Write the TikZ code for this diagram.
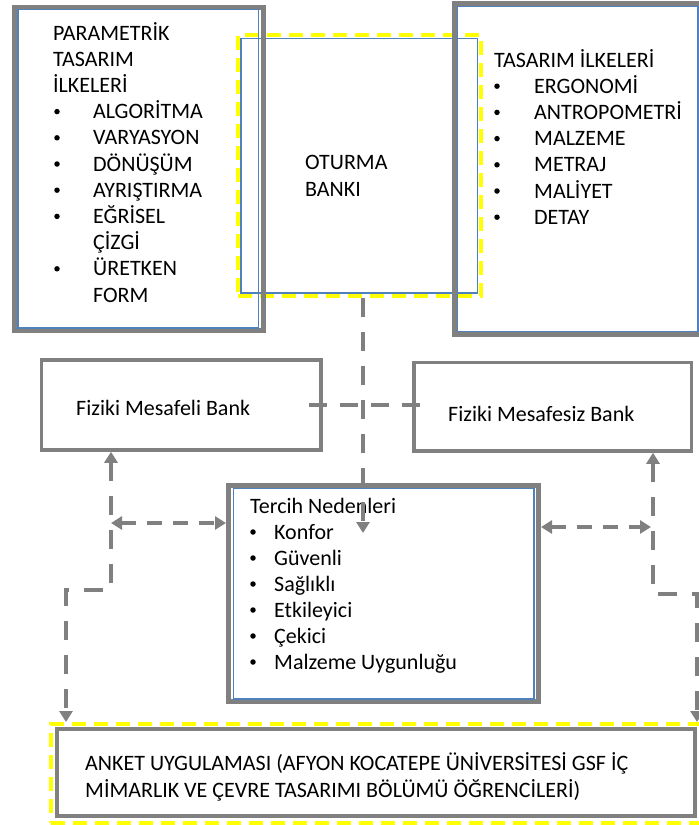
\documentclass[tikz,border=0pt]{standalone}
\usepackage{fontspec}
\setmainfont{Carlito}
\usetikzlibrary{arrows.meta}
\definecolor{framegray}{RGB}{128,128,128}
\definecolor{frameblue}{RGB}{79,129,189}
\definecolor{markyellow}{RGB}{255,255,0}

\begin{document}
\begin{tikzpicture}[x=1pt, y=-1pt,
    >={Triangle[length=11pt,width=13pt]},
    panel/.style={draw=framegray, line width=5pt, inner sep=0pt},
    liner/.style={draw=frameblue, line width=1.2pt, inner sep=0pt},
    optbox/.style={draw=framegray, line width=3.5pt, inner sep=0pt},
    hilite/.style={draw=markyellow, line width=4pt, dash pattern=on 14pt off 8pt, inner sep=0pt},
    txt/.style={anchor=base west, inner sep=0pt, font=\fontsize{22}{26}\selectfont},
    dot/.style={circle, fill=black, inner sep=0pt, minimum size=5.5pt},
    link/.style={draw=framegray, line width=4pt, dash pattern=on 19pt off 15pt},
    shortlink/.style={draw=framegray, line width=4pt, dash pattern=on 15pt off 11pt}]
  \useasboundingbox (0,0) rectangle (699,825);

  % oturma banki in the middle
  \node[liner, minimum width=236.7pt, minimum height=254.7pt] (benchin) at (359.3,165.6) {};
  \node[hilite, minimum width=243pt, minimum height=261pt] (bench) at (359,165.5) {};
  \node[txt] (bench1) at (305,169) {OTURMA};
  \node[txt] (bench2) at (305,196) {BANKI};

  % parametrik tasarim ilkeleri
  \node[panel, minimum width=248.5pt, minimum height=323.5pt] (param) at (138.75,168.75) {};
  \node[liner, minimum width=240.5pt, minimum height=318.5pt] (paramin) at (138.25,168.75) {};
  \foreach \t [count=\i] in {PARAMETRİK,TASARIM,İLKELERİ}
    \node[txt] (ptitle\i) at (53,13.8+26.2*\i) {\t};
  \foreach \t/\k in {ALGORİTMA/4,VARYASYON/5,DÖNÜŞÜM/6,AYRIŞTIRMA/7,EĞRİSEL/8,ÜRETKEN/10} {
    \node[dot] (pbul\k) at (57,6.8+26.2*\k) {};
    \node[txt] (pitem\k) at (93,13.8+26.2*\k) {\t};
  }
  \foreach \t/\k in {ÇİZGİ/9,FORM/11}
    \node[txt] (pitem\k) at (93,13.8+26.2*\k) {\t};

  % tasarim ilkeleri
  \node[panel, minimum width=249pt, minimum height=331pt] (design) at (578.5,169) {};
  \node[liner, minimum width=240.5pt, minimum height=325pt] (designin) at (577.75,169) {};
  \node[txt] (dtitle) at (494,67) {TASARIM İLKELERİ};
  \foreach \t [count=\k] in {ERGONOMİ,ANTROPOMETRİ,MALZEME,METRAJ,MALİYET,DETAY} {
    \node[dot] (dbul\k) at (497,60+26.2*\k) {};
    \node[txt] (ditem\k) at (534,67+26.2*\k) {\t};
  }

  % bank types
  \node[optbox, minimum width=279.5pt, minimum height=90pt] (fizmes) at (181.25,405) {};
  \node[txt] (fizmestxt) at (76,415) {Fiziki Mesafeli Bank};
  \node[optbox, minimum width=277.5pt, minimum height=88.5pt] (fizmesz) at (552.75,406.75) {};
  \node[txt] (fizmesztxt) at (448,421) {Fiziki Mesafesiz Bank};

  % tercih nedenleri
  \node[panel, minimum width=310pt, minimum height=216pt] (tercih) at (383.5,593.5) {};
  \node[liner, minimum width=300.5pt, minimum height=210.5pt] (tercihin) at (383.75,593.75) {};
  \node[txt] (ttitle) at (250,513) {Tercih Nedenleri};
  \foreach \t [count=\k] in {Konfor,Güvenli,Sağlıklı,Etkileyici,Çekici,Malzeme Uygunluğu} {
    \node[dot] (tbul\k) at (253,506+26*\k) {};
    \node[txt] (titem\k) at (274,513+26*\k) {\t};
  }

  % anket
  \node[panel, line width=4.5pt, minimum width=638pt, minimum height=87pt] (anket) at (376,772.5) {};
  \node[hilite, minimum width=650pt, minimum height=99pt] (anketmark) at (375.5,773.5) {};
  \node[txt] (anket1) at (85,770) {ANKET UYGULAMASI (AFYON KOCATEPE ÜNİVERSİTESİ GSF İÇ};
  \node[txt] (anket2) at (85,797) {MİMARLIK VE ÇEVRE TASARIMI BÖLÜMÜ ÖĞRENCİLERİ)};

  % connectors
  \coordinate (downtip) at (363,533);
  \coordinate (lbend) at (111,590);
  \coordinate (lfoot) at (66,590);
  \coordinate (lmid) at (111,523);
  \coordinate (rbend) at (653,594);
  \coordinate (rfoot) at (697,594);
  \coordinate (rmid) at (651,527);
  \draw[link,->] (bench.south -| downtip) -- (downtip);
  \draw[link, dash pattern=on 18pt off 13pt] ([xshift=-14pt]fizmes.east) -- ([xshift=19pt]fizmesz.west |- fizmes.east);
  \draw[link,<->] (lbend |- fizmes.south) -- (lbend) -- (lfoot) -- (lfoot |- anketmark.north);
  \draw[link,<->] (rbend |- fizmesz.south) -- (rbend) -- (rfoot) -- (rfoot |- anketmark.north);
  \draw[shortlink,<->] (lmid) -- (tercih.west |- lmid);
  \draw[shortlink,<->] (tercih.east |- rmid) -- (rmid);
\end{tikzpicture}
\end{document}
